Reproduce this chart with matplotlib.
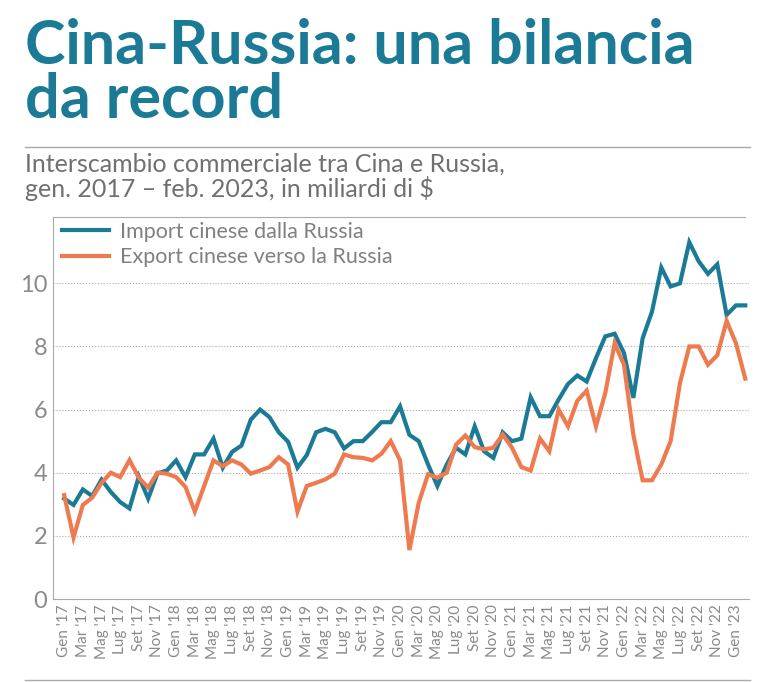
import matplotlib
matplotlib.use("Agg")
import matplotlib.pyplot as plt
from matplotlib.lines import Line2D

months_it = ["Gen", "Feb", "Mar", "Apr", "Mag", "Giu", "Lug", "Ago", "Set", "Ott", "Nov", "Dic"]
months = [f"{months_it[i % 12]} '{17 + i // 12}" for i in range(74)]

import_ru = [3.18, 2.98, 3.47, 3.26, 3.78, 3.39, 3.07, 2.87, 3.88, 3.18, 3.98, 4.07,
             4.39, 3.86, 4.58, 4.58, 5.08, 4.16, 4.66, 4.86, 5.68, 6.0, 5.76, 5.28,
             4.98, 4.16, 4.56, 5.28, 5.39, 5.28, 4.77, 5.0, 5.0, 5.29, 5.6, 5.6,
             6.1, 5.2, 5.0, 4.26, 3.58, 4.26, 4.79, 4.58, 5.47, 4.68, 4.47, 5.28,
             5.0, 5.08, 6.39, 5.79, 5.79, 6.32, 6.81, 7.08, 6.89, 7.63, 8.32, 8.4,
             7.79, 6.37, 8.26, 9.1, 10.5, 9.9, 10.0, 11.3, 10.7, 10.3, 10.6, 9.0,
             9.3, 9.3]
export_ru = [3.29, 1.95, 2.98, 3.21, 3.68, 4.0, 3.86, 4.4, 3.84, 3.53, 4.0, 3.97,
             3.86, 3.55, 2.77, 3.58, 4.39, 4.21, 4.39, 4.26, 3.97, 4.07, 4.18, 4.49,
             4.26, 2.77, 3.58, 3.68, 3.79, 3.97, 4.58, 4.49, 4.47, 4.39, 4.6, 5.0,
             4.39, 1.55, 3.05, 3.95, 3.84, 4.0, 4.89, 5.18, 4.81, 4.74, 4.79, 5.21,
             4.79, 4.18, 4.07, 5.08, 4.68, 6.0, 5.47, 6.28, 6.6, 5.47, 6.53, 8.1,
             7.42, 5.21, 3.76, 3.76, 4.26, 5.0, 6.84, 8.0, 8.0, 7.42, 7.72, 8.81,
             8.1, 6.98]
series_names = ["Import cinese dalla Russia", "Export cinese verso la Russia"]
yticks = [0, 2, 4, 6, 8, 10]

BLUE = "#1b7b96"
ORANGE = "#ee7a4f"
GRAY = "#8a8a8a"
plt.rcParams["font.family"] = "Lato"

fig = plt.figure(figsize=(7.63, 6.82), dpi=100)
fig.text(25/763, 1 - 18/682, "Cina-Russia: una bilancia\nda record", color=BLUE,
         fontsize=44, fontweight="bold", va="top", ha="left", linespacing=0.95)
fig.add_artist(Line2D([25/763, 750/763], [1 - 147/682] * 2, color="#aaaaaa", lw=1))
fig.text(25/763, 1 - 153/682, "Interscambio commerciale tra Cina e Russia,\ngen. 2017 – feb. 2023, in miliardi di $",
         color="#707070", fontsize=18, va="top", ha="left", linespacing=1.0)
fig.add_artist(Line2D([25/763, 750/763], [1 - 680/682] * 2, color="#aaaaaa", lw=1))

ax = fig.add_axes([53/763, 83/682, 696/763, 382/682])
x = list(range(len(months)))
ax.plot(x, import_ru, color=BLUE, lw=3, label=series_names[0], solid_joinstyle="miter")
ax.plot(x, export_ru, color=ORANGE, lw=3, label=series_names[1], solid_joinstyle="miter")
ax.set_xlim(-1.2, 73.4)
ax.set_ylim(0, 12.1)
ax.set_yticks(yticks)
ax.set_yticklabels([str(v) for v in yticks], fontsize=17, color=GRAY)
ax.grid(axis="y", color="#aaaaaa", ls=":", lw=0.8)
ax.set_xticks(x[::2])
ax.set_xticklabels(months[::2], rotation=90, fontsize=11, color=GRAY)
ax.tick_params(length=0, pad=4)
for s in ["left", "bottom", "top"]:
    ax.spines[s].set_color("#aaaaaa")
ax.spines["right"].set_visible(False)
ax.spines["top"].set_bounds(-1.2, 73.0)
leg = ax.legend(loc="upper left", frameon=False, fontsize=15.5, labelcolor="#808080",
                handlelength=2.2, borderaxespad=0.0, handletextpad=0.5, labelspacing=0.25,
                bbox_to_anchor=(0.0, 1.01))
fig.savefig("out.png", dpi=100)
